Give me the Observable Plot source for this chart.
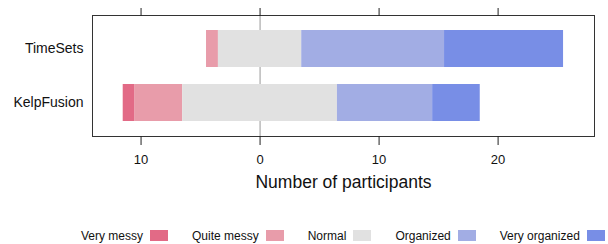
<!DOCTYPE html>
<html>
<head>
<meta charset="utf-8">
<script src="https://cdn.jsdelivr.net/npm/d3@7"></script>
<script src="https://cdn.jsdelivr.net/npm/@observablehq/plot@0.6"></script>
<style>
  body { margin: 0; background: #fff; font-family: "Liberation Sans", Arial, sans-serif; }
  #wrap { position: relative; width: 608px; height: 244px; }
  #legend { position: absolute; left: 81px; top: 229px; height: 13px; display: flex; align-items: center; font-size: 12px; color: #111; white-space: nowrap; }
  .item { display: flex; align-items: center; margin-right: 24px; }
  .sw { display: inline-block; width: 18px; height: 11px; margin-left: 7px; }
</style>
</head>
<body>
<div id="wrap"><div id="chart"></div><div id="legend"></div></div>
<script>
const categories = ["TimeSets", "KelpFusion"];
const levels = ["Very messy", "Quite messy", "Normal", "Organized", "Very organized"];
const colors = ["#e26a86", "#e89caa", "#e1e1e1", "#a2ade4", "#788ee6"];
const veryMessy = [0, 1];
const quiteMessy = [1, 4];
const normal = [7, 13];
const organized = [12, 8];
const veryOrganized = [10, 4];
const xTicks = [-10, 0, 10, 20];

const series = [veryMessy, quiteMessy, normal, organized, veryOrganized];
const segs = [];
categories.forEach((cat, i) => {
  let start = -(veryMessy[i] + quiteMessy[i] + normal[i] / 2);
  series.forEach((s, j) => {
    const v = s[i];
    if (v > 0) segs.push({cat, level: levels[j], x1: start, x2: start + v});
    start += v;
  });
});

const chart = Plot.plot({
  width: 608,
  height: 212,
  marginLeft: 92,
  marginRight: 14,
  marginTop: 15,
  marginBottom: 76,
  style: {fontFamily: '"Liberation Sans", Arial, sans-serif', fontSize: "13px", color: "#111", background: "#fff"},
  x: {domain: [-14.08, 28.1], ticks: xTicks},
  y: {domain: categories, paddingInner: 0.32, paddingOuter: 0.26},
  color: {domain: levels, range: colors},
  marks: [
    Plot.ruleX([0], {stroke: "#999", strokeWidth: 1}),
    Plot.barX(segs, {y: "cat", x1: "x1", x2: "x2", fill: "level", inset: 0}),
    Plot.frame({stroke: "#333", strokeWidth: 1}),
    Plot.axisX({anchor: "bottom", ticks: xTicks, tickSize: 9, tickPadding: 9, tickFormat: d => Math.abs(d), label: null, stroke: "#222"}),
    Plot.axisX({anchor: "top", ticks: xTicks, tickSize: 8, tickFormat: () => "", label: null, stroke: "#222"}),
    Plot.axisY({anchor: "left", tickSize: 0, tickPadding: 9, label: null, fontSize: 14}),
    Plot.text(["Number of participants"], {frameAnchor: "bottom", dy: 51.1, fontSize: 17.5, fill: "#111"})
  ]
});
document.getElementById("chart").appendChild(chart);

const leg = document.getElementById("legend");
levels.forEach((l, i) => {
  const it = document.createElement("div");
  it.className = "item";
  const t = document.createElement("span");
  t.textContent = l;
  const sw = document.createElement("span");
  sw.className = "sw";
  sw.style.background = colors[i];
  it.appendChild(t); it.appendChild(sw);
  leg.appendChild(it);
});
</script>
</body>
</html>
